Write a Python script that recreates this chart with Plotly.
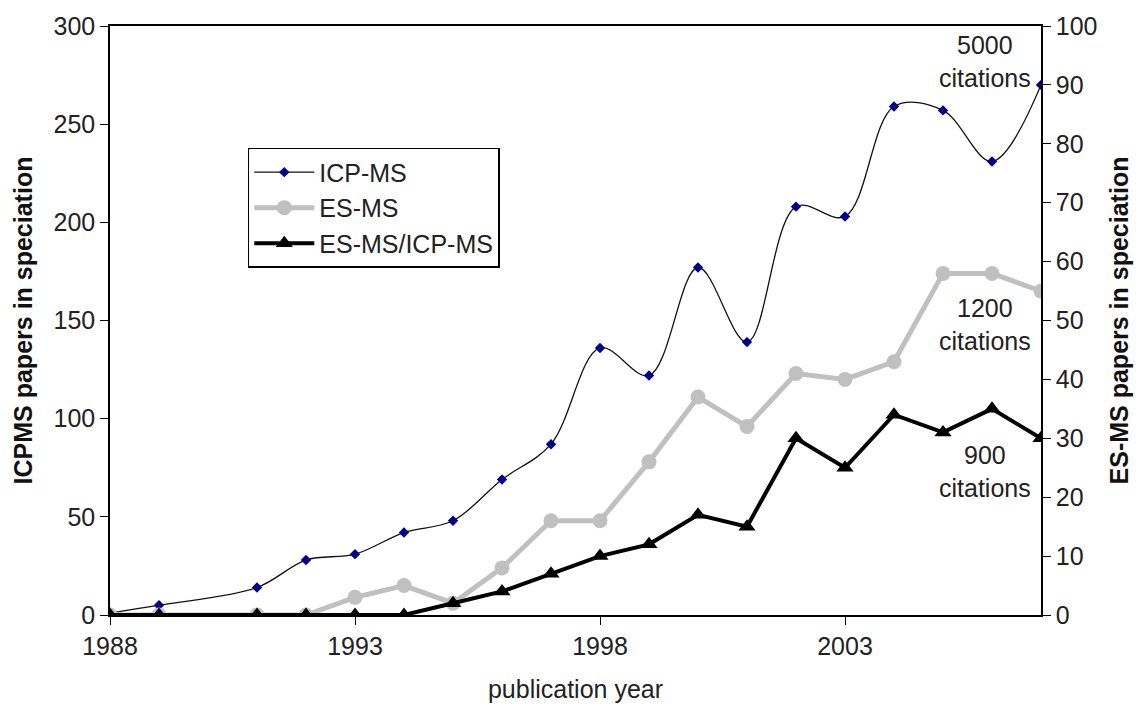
import plotly.graph_objects as go

# Publication counts per year
years = [1988, 1989, 1991, 1992, 1993, 1994, 1995, 1996, 1997, 1998,
         1999, 2000, 2001, 2002, 2003, 2004, 2005, 2006, 2007]
icp_ms = [1, 5, 14, 28, 31, 42, 48, 69, 87, 136,
          122, 177, 139, 208, 203, 259, 257, 231, 270]
es_ms = [0, 0, 0, 0, 3, 5, 2, 8, 16, 16,
         26, 37, 32, 41, 40, 43, 58, 58, 55]
es_icp_ms = [0, 0, 0, 0, 0, 0, 2, 4, 7, 10,
             12, 17, 15, 30, 25, 34, 31, 35, 30]

x_ticks = [1988, 1993, 1998, 2003]
citation_notes = ["5000<br>citations", "1200<br>citations", "900<br>citations"]
note_x = [2005.85, 2005.85, 2005.85]
note_y = [94.0, 49.4, 24.4]

FONT = "Liberation Sans, Arial, sans-serif"
FS = 25

fig = go.Figure()

fig.add_trace(go.Scatter(
    x=years, y=icp_ms, name="ICP-MS", mode="lines+markers",
    line=dict(color="#111111", width=1.3, shape="spline", smoothing=1.0),
    marker=dict(symbol="diamond", size=8, color="#00008b"),
    yaxis="y",
))
fig.add_trace(go.Scatter(
    x=years, y=es_ms, name="ES-MS", mode="lines+markers",
    line=dict(color="#c0c0c0", width=5),
    marker=dict(symbol="circle", size=15, color="#c0c0c0"),
    yaxis="y2",
))
fig.add_trace(go.Scatter(
    x=years, y=es_icp_ms, name="ES-MS/ICP-MS", mode="lines+markers",
    line=dict(color="#000000", width=4),
    marker=dict(symbol="triangle-up", size=15, color="#000000"),
    yaxis="y2",
))

for txt, nx, ny in zip(citation_notes, note_x, note_y):
    fig.add_annotation(
        x=nx, y=ny, xref="x", yref="y2", text=txt, showarrow=False,
        font=dict(family=FONT, size=FS, color="#222222"),
        align="center",
    )

axis_common = dict(
    showgrid=False, zeroline=False, showline=True, linecolor="#000000",
    linewidth=1.5, ticks="outside", ticklen=8, tickcolor="#000000",
    tickwidth=1.3, automargin=False,
    tickfont=dict(family=FONT, size=FS, color="#222222"),
)

fig.update_layout(
    width=1143, height=707,
    margin=dict(l=110, r=102, t=26, b=92),
    paper_bgcolor="white", plot_bgcolor="white",
    font=dict(family=FONT, color="#222222"),
    xaxis=dict(
        range=[1988, 2007], tickvals=x_ticks,
        title=dict(text="publication year", font=dict(family=FONT, size=FS),
                   standoff=22),
        mirror=True, **axis_common,
    ),
    yaxis=dict(
        range=[0, 300], dtick=50,
        title=dict(text="<b>ICPMS papers in speciation</b>",
                   font=dict(family=FONT, size=FS, color="#111111"), standoff=14),
        **axis_common,
    ),
    yaxis2=dict(
        range=[0, 100], dtick=10, overlaying="y", side="right",
        title=dict(text="<b>ES-MS papers in speciation</b>",
                   font=dict(family=FONT, size=FS, color="#111111"), standoff=14),
        **axis_common,
    ),
    # inner half of the crossing ticks on the right-hand axis
    yaxis3=dict(
        range=[0, 100], dtick=10, overlaying="y", side="right", anchor="x",
        showgrid=False, zeroline=False, showline=False, showticklabels=False,
        ticks="inside", ticklen=8, tickwidth=1.3, tickcolor="#000000",
    ),
    legend=dict(
        x=0.148, y=0.793, xanchor="left", yanchor="top",
        bgcolor="white", bordercolor="#000000", borderwidth=1.5,
        font=dict(family=FONT, size=FS, color="#222222"),
        tracegroupgap=0, itemwidth=60,
    ),
    showlegend=True,
)

fig.write_html("out.html")
